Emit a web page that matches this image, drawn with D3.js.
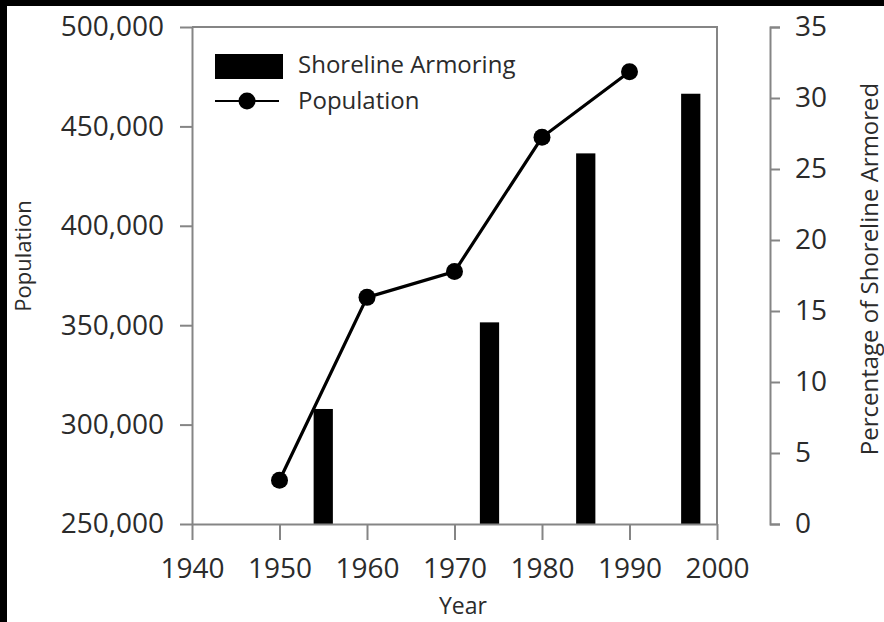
<!DOCTYPE html>
<html>
<head>
<meta charset="utf-8">
<script src="https://cdn.jsdelivr.net/npm/d3@7"></script>
<style>
  html, body { margin: 0; padding: 0; background: #000; }
  svg { display: block; }
  text { font-family: "Open Sans", "Noto Sans", sans-serif; fill: #2b2b2b; }
</style>
</head>
<body>
<script>
// 数据
const popYears = [1950, 1960, 1970, 1980, 1990];
const popValues = [272000, 364000, 377000, 444500, 477500];

const armorYears = [1955, 1974, 1985, 1997];
const armorValues = [8.1, 14.2, 26.1, 30.3];

const xTicks = [1940, 1950, 1960, 1970, 1980, 1990, 2000];
const yLeftTicks = [250000, 300000, 350000, 400000, 450000, 500000];
const yRightTicks = [0, 5, 10, 15, 20, 25, 30, 35];

const width = 884, height = 622;
const axisColor = "#858585";

const svg = d3.select("body")
    .append("svg")
    .attr("width", width)
    .attr("height", height);

// 白色背景（左上有黑边）
svg.append("rect")
    .attr("x", 7).attr("y", 6)
    .attr("width", width - 7).attr("height", height - 6)
    .attr("fill", "#fff");

const x = d3.scaleLinear().domain([1940, 2000]).range([192, 717]);
const yL = d3.scaleLinear().domain([250000, 500000]).range([524, 27]);
const yR = d3.scaleLinear().domain([0, 35]).range([524, 27]);

// 柱子
const barHalf = 1.1; // years
svg.selectAll(".bar")
    .data(armorYears)
    .enter().append("rect")
    .attr("class", "bar")
    .attr("x", d => x(d - barHalf))
    .attr("width", d => x(d + barHalf) - x(d - barHalf))
    .attr("y", (d, i) => yR(armorValues[i]))
    .attr("height", (d, i) => yR(0) - yR(armorValues[i]))
    .attr("fill", "#000");

// 边框（上、右）
svg.append("path")
    .attr("d", `M${x(1940)},${yL(500000)}H${x(2000)}V${yL(250000)}`)
    .attr("fill", "none")
    .attr("stroke", axisColor)
    .attr("stroke-width", 2);

function styleAxis(g) {
    g.selectAll("path, line").attr("stroke", axisColor).attr("stroke-width", 2);
    g.selectAll("text")
        .style("font-family", '"Open Sans", "Noto Sans", sans-serif')
        .attr("fill", "#262626");
}

// 左轴
svg.append("g")
    .attr("transform", `translate(${x(1940)},0)`)
    .call(d3.axisLeft(yL).tickValues(yLeftTicks).tickFormat(d3.format(","))
        .tickSize(12).tickSizeOuter(0).tickPadding(16))
    .call(g => g.selectAll("text").style("font-size", "28px"))
    .call(styleAxis);

// 下轴
svg.append("g")
    .attr("transform", `translate(0,${yL(250000)})`)
    .call(d3.axisBottom(x).tickValues(xTicks).tickFormat(d3.format("d"))
        .tickSize(16).tickSizeOuter(0).tickPadding(18))
    .call(g => g.selectAll("text").style("font-size", "28px"))
    .call(styleAxis);

// 右轴
svg.append("g")
    .attr("transform", "translate(770,0)")
    .call(d3.axisRight(yR).tickValues(yRightTicks)
        .tickSize(10).tickPadding(15))
    .call(g => g.selectAll("text").style("font-size", "28px"))
    .call(styleAxis);

// 折线
const line = d3.line()
    .x((d, i) => x(popYears[i]))
    .y(d => yL(d));

svg.append("path")
    .datum(popValues)
    .attr("d", line)
    .attr("fill", "none")
    .attr("stroke", "#000")
    .attr("stroke-width", 3.2);

svg.selectAll(".dot")
    .data(popValues)
    .enter().append("circle")
    .attr("class", "dot")
    .attr("cx", (d, i) => x(popYears[i]))
    .attr("cy", d => yL(d))
    .attr("r", 8.5)
    .attr("fill", "#000");

// 轴标题
svg.append("text")
    .attr("transform", "translate(31,256) rotate(-90)")
    .attr("text-anchor", "middle")
    .style("font-size", "22px")
    .text("Population");

svg.append("text")
    .attr("transform", "translate(878,269) rotate(-90)")
    .attr("text-anchor", "middle")
    .style("font-size", "24px")
    .text("Percentage of Shoreline Armored");

svg.append("text")
    .attr("x", 463)
    .attr("y", 614)
    .attr("text-anchor", "middle")
    .style("font-size", "23px")
    .text("Year");

// 图例
const legend = svg.append("g");
legend.append("rect")
    .attr("x", 215).attr("y", 54)
    .attr("width", 68).attr("height", 25)
    .attr("fill", "#000");
legend.append("text")
    .attr("x", 298).attr("y", 73)
    .style("font-size", "24px")
    .text("Shoreline Armoring");

legend.append("line")
    .attr("x1", 215).attr("x2", 279)
    .attr("y1", 101).attr("y2", 101)
    .attr("stroke", "#000").attr("stroke-width", 2);
legend.append("circle")
    .attr("cx", 247).attr("cy", 101).attr("r", 8.5)
    .attr("fill", "#000");
legend.append("text")
    .attr("x", 298).attr("y", 109)
    .style("font-size", "24px")
    .text("Population");
</script>
</body>
</html>
